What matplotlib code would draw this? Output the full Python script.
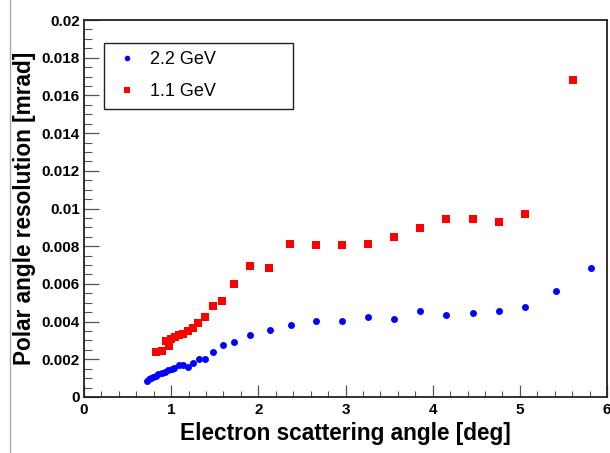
import matplotlib
matplotlib.use("Agg")
import matplotlib.pyplot as plt
from matplotlib.lines import Line2D
from matplotlib.ticker import MultipleLocator

plt.rcParams['font.family'] = ['Liberation Sans', 'DejaVu Sans']

# 2.2 GeV beam
x_22 = [0.719, 0.745, 0.768, 0.795, 0.822, 0.852, 0.891, 0.929, 0.967, 1.005,
        1.036, 1.093, 1.139, 1.196, 1.254, 1.319, 1.388, 1.479, 1.590, 1.724,
        1.904, 2.133, 2.370, 2.661, 2.955, 3.257, 3.555, 3.857, 4.155, 4.461,
        4.763, 5.061, 5.413, 5.822]
y_22 = [0.00085, 0.00094, 0.00101, 0.00108, 0.00113, 0.00120, 0.00129, 0.00134,
        0.00142, 0.00150, 0.00155, 0.00170, 0.00171, 0.00161, 0.00182, 0.00200,
        0.00203, 0.00240, 0.00274, 0.00292, 0.00329, 0.00357, 0.00384, 0.00403,
        0.00403, 0.00424, 0.00415, 0.00455, 0.00433, 0.00446, 0.00455, 0.00476,
        0.00564, 0.00686]

# 1.1 GeV beam
x_11 = [0.822, 0.891, 0.940, 0.975, 0.998, 1.044, 1.089, 1.139, 1.189, 1.247,
        1.311, 1.388, 1.476, 1.586, 1.724, 1.904, 2.120, 2.362, 2.657, 2.955,
        3.253, 3.552, 3.853, 4.151, 4.458, 4.759, 5.057, 5.608]
y_11 = [0.00237, 0.00244, 0.00297, 0.00272, 0.00308, 0.00320, 0.00329, 0.00334,
        0.00352, 0.00368, 0.00390, 0.00423, 0.00484, 0.00511, 0.00599, 0.00697,
        0.00686, 0.00812, 0.00805, 0.00808, 0.00812, 0.00850, 0.00897, 0.00943,
        0.00943, 0.00927, 0.00969, 0.01682]

x_ticks = [0, 1, 2, 3, 4, 5, 6]
y_ticks = [0, 0.002, 0.004, 0.006, 0.008, 0.01, 0.012, 0.014, 0.016, 0.018, 0.02]
y_tick_labels = ['0', '0.002', '0.004', '0.006', '0.008', '0.01', '0.012',
                 '0.014', '0.016', '0.018', '0.02']

W, H = 610, 453
fig = plt.figure(figsize=(W / 100, H / 100), dpi=100)
ax = fig.add_axes([84 / W, 1 - 397 / H, (607 - 84) / W, (397 - 20) / H])

ax.plot(x_22, y_22, 'o', color='#0000ff', markersize=5.0, markeredgewidth=0, label='2.2 GeV')
ax.plot(x_11, y_11, 's', color='#ff0000', markersize=5.4, markeredgewidth=0, label='1.1 GeV')

ax.set_xlim(0, 6)
ax.set_ylim(0, 0.02)
ax.set_xticks(x_ticks)
ax.set_xticklabels([str(t) for t in x_ticks])
ax.set_yticks(y_ticks)
ax.set_yticklabels(y_tick_labels)
ax.xaxis.set_minor_locator(MultipleLocator(0.2))
ax.yaxis.set_minor_locator(MultipleLocator(0.0005))

ax.tick_params(which='both', direction='in', top=False, right=False, color='#555555')
ax.tick_params(which='major', length=11, width=0.9, labelsize=11, pad=3)
ax.tick_params(which='minor', length=5.5, width=0.8)
ax.tick_params(axis='x', which='major', length=9, pad=4)
ax.tick_params(axis='x', which='minor', length=4.5)
for lab in ax.get_xticklabels() + ax.get_yticklabels():
    lab.set_fontweight('bold')

for s in ax.spines.values():
    s.set_linewidth(1.3)
    s.set_color('#222222')

ax.set_xlabel('Electron scattering angle [deg]', fontsize=16.3, fontweight='bold', labelpad=4)
ax.set_ylabel('Polar angle resolution [mrad]', fontsize=16.3, fontweight='bold', labelpad=4)

leg = ax.legend(loc='upper left', bbox_to_anchor=(104 / W, 1 - 111 / H, 189 / W, 68 / H),
                bbox_transform=fig.transFigure, mode='expand', fontsize=13,
                frameon=True, fancybox=False, edgecolor='#222222', framealpha=1,
                borderpad=0.45, labelspacing=0.85, handlelength=1.6,
                handletextpad=0.5, borderaxespad=0, markerscale=0.8)
leg.get_frame().set_linewidth(1.0)

# canvas edge on the left
fig.add_artist(Line2D([9.5 / W, 9.5 / W], [0, 1], color='#aaaaaa', linewidth=1.0))

fig.savefig('out.png', dpi=100)
